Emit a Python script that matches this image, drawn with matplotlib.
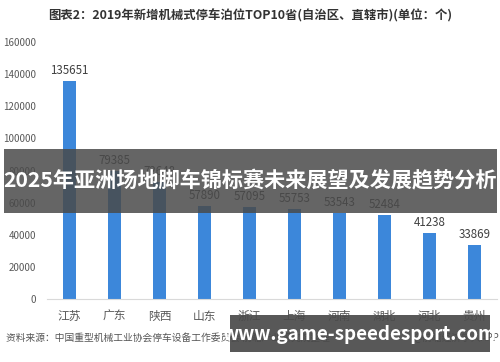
import matplotlib.pyplot as plt
from matplotlib.patches import Rectangle

plt.rcParams['font.family'] = ['Noto Sans CJK SC', 'DejaVu Sans']

provinces = ["江苏", "广东", "陕西", "山东", "浙江", "上海", "河南", "湖北", "河北", "贵州"]
spaces = [135651, 79385, 72648, 57890, 57095, 55753, 53543, 52484, 41238, 33869]
yticks = [0, 20000, 40000, 60000, 80000, 100000, 120000, 140000, 160000]

title = "图表2：2019年新增机械式停车泊位TOP10省(自治区、直辖市)(单位：个)"
banner = "2025年亚洲场地脚车锦标赛未来展望及发展趋势分析"
site = "www.game-speedesport.com"
source = "资料来源：中国重型机械工业协会停车设备工作委员会 前瞻产业研究院整理"
credit = "@前瞻经济学人APP"

fig = plt.figure(figsize=(5, 3.62), dpi=100)
ax = fig.add_axes([0.094, 0.174, 0.9, 0.71])

x = range(len(provinces))
bars = ax.bar(x, spaces, width=0.31, color="#3c87da")
for b, v in zip(bars, spaces):
    ax.text(b.get_x() + b.get_width() / 2, v + 2500, str(v), ha="center", va="bottom",
            fontsize=8.3, color="#404040")

ax.set_xlim(-0.5, len(provinces) - 0.5)
ax.set_ylim(0, 160000)
ax.set_yticks(yticks)
ax.set_yticklabels([str(t) for t in yticks], fontsize=7, color="#595959")
ax.set_xticks(list(x))
ax.set_xticklabels(provinces, fontsize=8.5, color="#595959")
ax.tick_params(length=0, pad=8)
for s in ["top", "right", "left"]:
    ax.spines[s].set_visible(False)
ax.spines["bottom"].set_color("#d9d9d9")

fig.text(0.5, 0.955, title, ha="center", va="center", fontsize=8.9, fontweight="bold", color="#333333")
fig.text(0.012, 0.068, source, ha="left", va="center", fontsize=7, color="#555555")
fig.text(0.998, 0.068, credit, ha="right", va="center", fontsize=7, color="#555555")

# overlay banners
fig.patches.append(Rectangle((0.008, 1 - 213 / 362), 0.986, 64 / 362, transform=fig.transFigure,
                             facecolor="#4a4a4a", alpha=0.85, zorder=5))
fig.text(0.5, 1 - 181 / 362, banner, ha="center", va="center", fontsize=15.2, fontweight="bold",
         color="white", zorder=6)
fig.patches.append(Rectangle((0.46, 1 - 352 / 362), 0.52, 37 / 362, transform=fig.transFigure,
                             facecolor="#4a4a4a", alpha=0.92, zorder=5))
fig.text(0.72, 1 - 334 / 362, site, ha="center", va="center", fontsize=13.5, fontweight="bold",
         color="white", zorder=6)

fig.savefig("out.png", dpi=100, facecolor="white")
